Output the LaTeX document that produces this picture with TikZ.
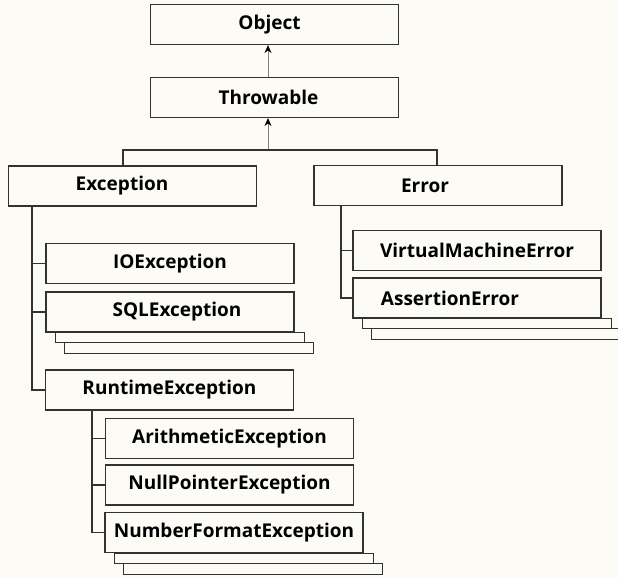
\documentclass[tikz,border=0pt]{standalone}
\usepackage{fontspec}
\setmainfont{Open Sans}
\usetikzlibrary{calc,arrows.meta}
\definecolor{paper}{RGB}{252,251,246}
\definecolor{ink}{RGB}{50,50,50}
\newcommand{\stackbox}[1]{%
  \draw[link,fill=paper] ($(#1.south west)+(10,0)$) rectangle ($(#1.south east)+(10,10)$);
  \draw[link,fill=paper] ($(#1.south west)+(19,10)$) rectangle ($(#1.south east)+(19,21)$);}

\begin{document}
\begin{tikzpicture}[x=1pt,y=-1pt,
    cls/.style={draw=ink,line width=1.1pt,fill=paper,inner sep=0pt,
      minimum width=248pt,minimum height=40pt,
      font=\fontsize{19}{22}\selectfont\bfseries},
    link/.style={draw=ink,line width=1.1pt},
    up/.style={draw=gray,line width=1pt,
      -{Stealth[length=8pt,width=7pt,black,fill=black]}}]
    \fill[paper] (0,0) rectangle (618,578);
    \useasboundingbox (0,0) rectangle (618,578);
    % classes
    \node[cls] (obj) at (274.5,24.5) {\hspace*{-10pt}Object};
    \node[cls] (thr) at (274.5,97.5) {\hspace*{-12pt}Throwable};
    \node[cls] (exc) at (132.5,186) {\hspace*{-21pt}Exception};
    \node[cls] (err) at (438,185.5) {\hspace*{-26pt}Error};
    \node[cls] (ioe) at (170,263.5) {IOException};
    \node[cls] (sql) at (170,312) {\hspace*{14pt}SQLException};
    \node[cls] (rte) at (169.5,390) {RuntimeException};
    \node[cls] (ari) at (229.5,438.5) {ArithmeticException};
    \node[cls] (npe) at (229.5,485) {NullPointerException};
    \node[cls,minimum width=258pt] (nfe) at (234,532.5) {NumberFormatException};
    \node[cls] (vme) at (477,250.5) {VirtualMachineError};
    \node[cls] (ase) at (477,298) {\hspace*{-54pt}AssertionError};
    \stackbox{sql}
    \stackbox{nfe}
    \stackbox{ase}
    % inheritance
    \coordinate (fork) at (268,150);
    \coordinate (forkl) at (123,150);
    \coordinate (forkr) at (437,150);
    \draw[up] (fork) -- (thr.south -| fork);
    \draw[up] (thr.north -| fork) -- (obj.south -| fork);
    \draw[link] (exc.north -| forkl) |- (forkr) -- (err.north -| forkr);
    \coordinate (t1) at (32,0);
    \coordinate (t2) at (341,0);
    \coordinate (t3) at (92,0);
    \draw[link] (exc.south -| t1) |- (rte.west);
    \draw[link] (err.south -| t2) |- (ase.west);
    \draw[link] (rte.south -| t3) |- (nfe.west);
    \foreach \n in {ioe,sql} \draw[link] (t1 |- \n.west) -- (\n.west);
    \draw[link] (t2 |- vme.west) -- (vme.west);
    \foreach \n in {ari,npe} \draw[link] (t3 |- \n.west) -- (\n.west);
\end{tikzpicture}
\end{document}
